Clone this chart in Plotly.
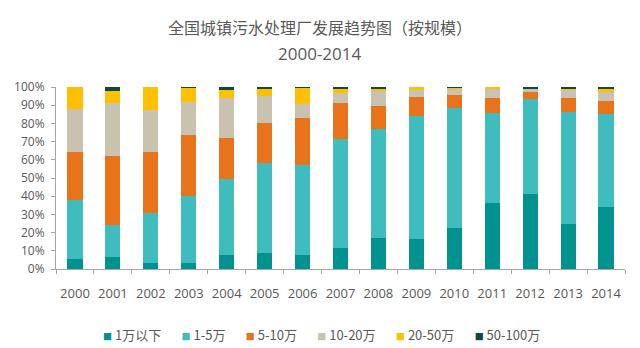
import plotly.graph_objects as go

years = [str(y) for y in range(2000, 2015)]
series_names = ["1万以下", "1-5万", "5-10万", "10-20万", "20-50万", "50-100万"]

s_lt1 = [5.5, 6.4, 3.5, 3.1, 7.5, 8.8, 7.5, 11.3, 17.0, 16.6, 22.4, 36.3, 41.1, 24.6, 34.3]
s_1_5 = [32.5, 17.9, 27.5, 36.9, 42.0, 49.6, 49.4, 59.9, 59.8, 67.7, 66.1, 49.6, 52.3, 61.9, 50.9]
s_5_10 = [26.4, 37.9, 33.4, 33.9, 22.6, 21.9, 26.1, 19.9, 13.0, 10.2, 7.3, 8.1, 3.9, 7.5, 7.3]
s_10_20 = [23.7, 29.0, 22.8, 17.9, 22.1, 14.8, 7.9, 5.8, 8.0, 4.0, 3.5, 5.3, 1.8, 4.2, 4.8]
s_20_50 = [11.9, 6.8, 12.8, 7.7, 4.2, 3.6, 8.6, 2.4, 1.5, 1.5, 0.2, 0.7, 0.2, 1.1, 2.0]
s_50_100 = [0.0, 2.0, 0.0, 0.5, 1.6, 1.3, 0.5, 0.7, 0.7, 0.0, 0.5, 0.0, 0.7, 0.7, 0.7]

y_ticks = list(range(0, 101, 10))
y_tick_labels = [f"{v}%" for v in y_ticks]

colors = ["#00928F", "#3FBDBE", "#E8731A", "#C9C2AF", "#FFC000", "#0B4A3E"]
all_series = [s_lt1, s_1_5, s_5_10, s_10_20, s_20_50, s_50_100]

fig = go.Figure()
for name, vals, col in zip(series_names, all_series, colors):
    fig.add_trace(go.Bar(x=years, y=vals, name=name,
                         marker=dict(color=col, line=dict(width=0)), width=0.4))

fig.update_layout(
    barmode="stack",
    width=640, height=348,
    margin=dict(l=56, r=15, t=87, b=79, autoexpand=False),
    paper_bgcolor="white", plot_bgcolor="white",
    font=dict(family="Open Sans, Noto Sans CJK SC", color="#595959", size=12),
    showlegend=False,
)
fig.update_yaxes(range=[0, 100], tickvals=y_ticks, ticktext=y_tick_labels,
                 showgrid=False, zeroline=False, showline=True, linecolor="#A6A6A6", linewidth=1,
                 ticks="outside", ticklen=4, tickcolor="#A6A6A6", ticklabelstandoff=4,
                 automargin=False,
                 tickfont=dict(size=12, color="#595959"))
fig.update_xaxes(type="category", showgrid=False, showline=True, linecolor="#A6A6A6", linewidth=1,
                 ticks="outside", tickson="boundaries", ticklen=4, tickcolor="#A6A6A6",
                 tickangle=0, ticklabelstandoff=12, automargin=False,
                 tickfont=dict(size=13, color="#595959"))

# titles (centered on the full image width)
cx = (320 - 56) / (640 - 56 - 15)
fig.add_annotation(text="全国城镇污水处理厂发展趋势图（按规模）", xref="paper", yref="paper",
                   x=cx, y=1, xanchor="center", yanchor="middle", yshift=87 - 27, showarrow=False,
                   font=dict(family="Noto Sans CJK SC", size=16, color="#595959"))
fig.add_annotation(text="2000-2014", xref="paper", yref="paper",
                   x=cx, y=1, xanchor="center", yanchor="middle", yshift=87 - 53, showarrow=False,
                   font=dict(family="Open Sans, Noto Sans", size=17, color="#595959"))

# legend as text row with coloured square markers
sep = "&nbsp;" * 7
parts = []
for name, col in zip(series_names, colors):
    parts.append(f"<span style='color:{col};font-size:9px'>■</span>&nbsp;{name}")
legend_text = sep.join(parts)
fig.add_annotation(text=legend_text, xref="paper", yref="paper",
                   x=(321 - 56) / (640 - 56 - 15), y=0, xanchor="center", yanchor="middle",
                   yshift=-(334 - 269), showarrow=False,
                   font=dict(family="Noto Sans CJK SC", size=13, color="#595959"))

fig.write_html("out.html")
